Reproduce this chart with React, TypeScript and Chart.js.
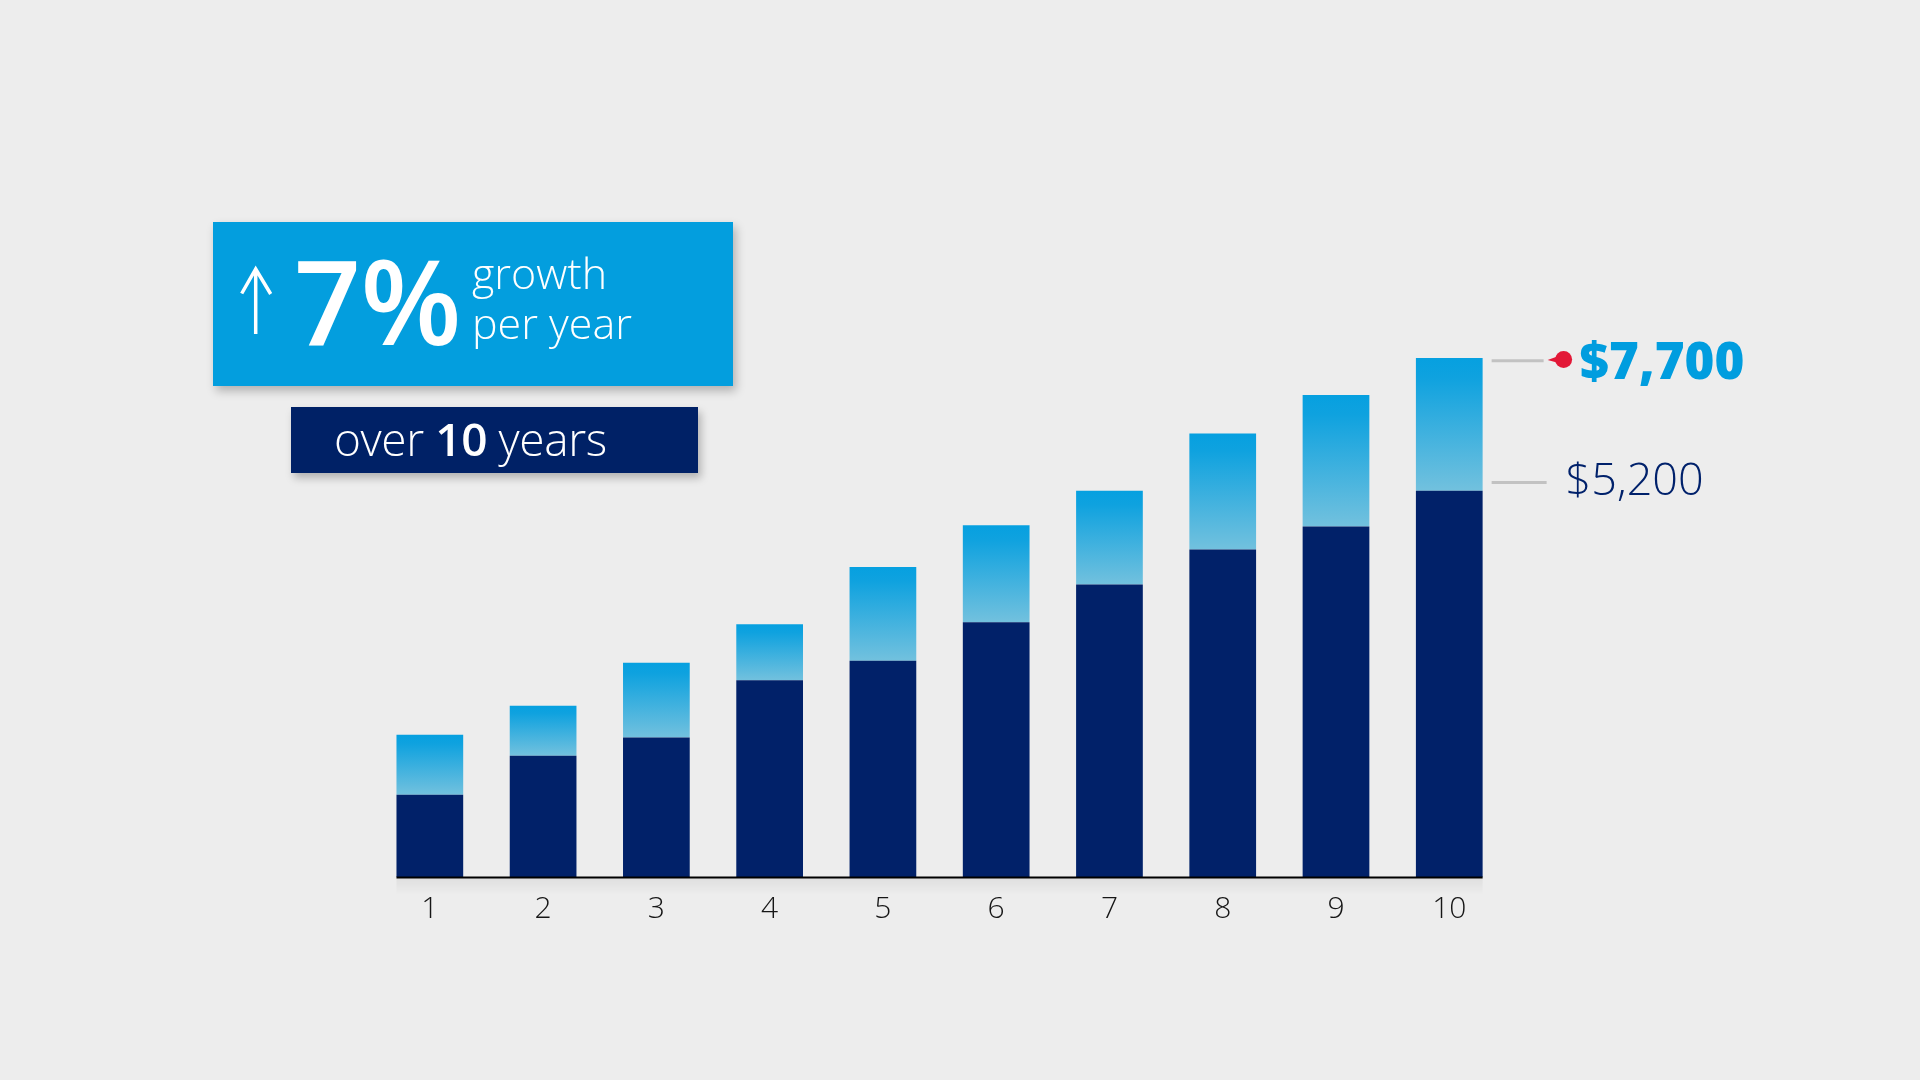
import React, { useEffect, useRef } from "react";
import { Chart, registerables } from "chart.js";

Chart.register(...registerables);

// ---- data ----
const years = ["1", "2", "3", "4", "5", "6", "7", "8", "9", "10"];
const contributions = [1220, 1800, 2070, 2920, 3210, 3780, 4340, 4860, 5200, 5730];
const balances = [2110, 2540, 3180, 3750, 4600, 5220, 5730, 6580, 7150, 7700];
const calloutLabels = ["$7,700", "$5,200"];
const headlineRate = "7%";
const headlineLines = ["growth", "per year"];
const periodParts = ["over ", "10", " years"];
const yMax = 10000;

const FONT = "'Open Sans', 'Noto Sans', sans-serif";
const NAVY = "#012169";
const BLUE = "#009ddf";

const baselinePlugin = {
  id: "baselineLine",
  afterDatasetsDraw(chart: any) {
    const bars = chart.getDatasetMeta(0).data;
    if (!bars.length) return;
    const first = bars[0];
    const last = bars[bars.length - 1];
    const left = first.x - first.width / 2;
    const right = last.x + last.width / 2;
    const y = chart.scales.y.getPixelForValue(0);
    const ctx = chart.ctx;
    ctx.save();
    const g = ctx.createLinearGradient(0, y, 0, y + 18);
    g.addColorStop(0, "rgba(0,0,0,0.06)");
    g.addColorStop(1, "rgba(0,0,0,0)");
    ctx.fillStyle = g;
    ctx.fillRect(left, y, right - left, 18);
    ctx.strokeStyle = "#000";
    ctx.lineWidth = 2;
    ctx.beginPath();
    ctx.moveTo(left, y + 0.5);
    ctx.lineTo(right, y + 0.5);
    ctx.stroke();
    ctx.restore();
  },
};

const calloutPlugin = {
  id: "callouts",
  afterDraw(chart: any) {
    const n = balances.length - 1;
    const bar = chart.getDatasetMeta(1).data[n];
    if (!bar) return;
    const right = bar.x + bar.width / 2;
    const yTop = chart.scales.y.getPixelForValue(balances[n]);
    const ySplit = chart.scales.y.getPixelForValue(contributions[n]);
    const ctx = chart.ctx;
    ctx.save();
    // connector lines
    ctx.strokeStyle = "#c2c2c2";
    ctx.lineWidth = 3;
    ctx.beginPath();
    ctx.moveTo(right + 9, yTop + 2.7);
    ctx.lineTo(right + 61, yTop + 2.7);
    ctx.moveTo(right + 9, ySplit - 8.3);
    ctx.lineTo(right + 64, ySplit - 8.3);
    ctx.stroke();
    // red pin
    const cx = right + 81;
    const cy = yTop + 1.5;
    ctx.fillStyle = "#e31837";
    ctx.beginPath();
    ctx.arc(cx, cy, 8.5, 0, Math.PI * 2);
    ctx.fill();
    ctx.beginPath();
    ctx.moveTo(cx - 5, cy - 3.5);
    ctx.lineTo(right + 65, cy + 0.5);
    ctx.lineTo(cx - 5, cy + 3.5);
    ctx.closePath();
    ctx.fill();
    // labels
    ctx.textBaseline = "alphabetic";
    ctx.textAlign = "left";
    ctx.fillStyle = BLUE;
    ctx.font = `800 51px ${FONT}`;
    ctx.fillText(calloutLabels[0], right + 97, yTop + 21.3);
    ctx.fillStyle = "#00216b";
    ctx.font = `300 45px ${FONT}`;
    ctx.fillText(calloutLabels[1], right + 83, ySplit + 4.7);
    ctx.restore();
  },
};

export default function App() {
  const ref = useRef<HTMLCanvasElement | null>(null);

  useEffect(() => {
    document.body.style.margin = "0";
    const canvas = ref.current;
    if (!canvas) return;
    const growth = balances.map((b, i) => b - contributions[i]);

    const growthColor = (c: any) => {
      const chart = c.chart;
      if (!chart.chartArea || c.dataIndex === undefined) return BLUE;
      const y = chart.scales.y;
      const top = y.getPixelForValue(balances[c.dataIndex]);
      const bot = y.getPixelForValue(contributions[c.dataIndex]);
      const g = chart.ctx.createLinearGradient(0, top, 0, bot);
      g.addColorStop(0, "#06a0e0");
      g.addColorStop(0.15, "#0fa2df");
      g.addColorStop(1, "#72c1de");
      return g;
    };

    const chart = new Chart(canvas, {
      type: "bar",
      data: {
        labels: years,
        datasets: [
          {
            label: "Contributions",
            data: contributions,
            backgroundColor: NAVY,
            borderWidth: 0,
            categoryPercentage: 1,
            barPercentage: 0.589,
          },
          {
            label: "Growth",
            data: growth,
            backgroundColor: growthColor,
            borderWidth: 0,
            categoryPercentage: 1,
            barPercentage: 0.589,
          },
        ],
      },
      options: {
        responsive: false,
        animation: false,
        devicePixelRatio: 1,
        layout: { padding: { left: 373.2, right: 414.1, top: 203, bottom: 137.6 } },
        plugins: {
          legend: { display: false },
          tooltip: { enabled: false },
        },
        scales: {
          x: {
            stacked: true,
            grid: { display: false, drawTicks: false },
            border: { display: false },
            ticks: {
              color: "#161616",
              padding: 14.7,
              font: { family: FONT, size: 30, weight: "300" },
            },
          },
          y: {
            stacked: true,
            display: false,
            min: 0,
            max: yMax,
          },
        },
      },
      plugins: [baselinePlugin, calloutPlugin],
    } as any);

    return () => chart.destroy();
  }, []);

  return (
    <div
      style={{
        position: "absolute",
        left: 0,
        top: 0,
        width: 1920,
        height: 1080,
        background: "#ededed",
        overflow: "hidden",
        fontFamily: FONT,
      }}
    >
      <canvas
        ref={ref}
        width={1920}
        height={1080}
        style={{ position: "absolute", left: 0, top: 0, width: 1920, height: 1080 }}
      />
      {/* headline box */}
      <div
        style={{
          position: "absolute",
          left: 213,
          top: 222,
          width: 520,
          height: 164,
          background: "#039ede",
          boxShadow: "3px 5px 9px rgba(0,0,0,0.25)",
        }}
      />
      <svg
        style={{ position: "absolute", left: 238, top: 265 }}
        width={36}
        height={72}
        viewBox="0 0 36 72"
      >
        <path
          d="M17.7 4 L17.7 69 M3.7 28.5 L17.7 4 L32.7 29"
          stroke="#fff"
          strokeWidth={3.5}
          fill="none"
          strokeLinejoin="miter"
        />
      </svg>
      <div
        style={{
          position: "absolute",
          left: 294,
          top: 241,
          fontSize: 117,
          lineHeight: "117px",
          fontWeight: 600,
          letterSpacing: -0.5,
          color: "#fff",
          whiteSpace: "nowrap",
        }}
      >
        {headlineRate}
      </div>
      <div
        style={{
          position: "absolute",
          left: 472,
          top: 248,
          fontSize: 43,
          lineHeight: "50px",
          fontWeight: 300,
          color: "#fff",
          whiteSpace: "nowrap",
        }}
      >
        <div>{headlineLines[0]}</div>
        <div>{headlineLines[1]}</div>
      </div>
      {/* period box */}
      <div
        style={{
          position: "absolute",
          left: 291,
          top: 407,
          width: 407,
          height: 66,
          boxSizing: "border-box",
          paddingLeft: 43,
          background: "#002166",
          boxShadow: "3px 5px 8px rgba(0,0,0,0.25)",
          color: "#fff",
          fontSize: 46,
          lineHeight: "62px",
          fontWeight: 300,
          letterSpacing: -0.4,
          whiteSpace: "pre",
        }}
      >
        {periodParts[0]}
        <span style={{ fontWeight: 600 }}>{periodParts[1]}</span>
        {periodParts[2]}
      </div>
    </div>
  );
}
